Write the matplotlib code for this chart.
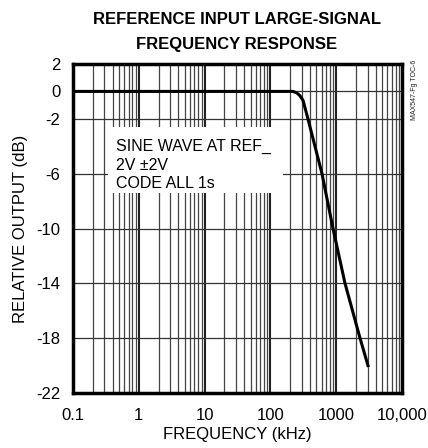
import matplotlib.pyplot as plt

freq_khz = [0.1, 220, 250, 280, 313, 372, 608, 894, 1361, 2302, 3042]
rel_db = [0, 0, -0.1, -0.3, -0.65, -2, -6, -10, -14, -18, -20]

y_ticks = [2, 0, -2, -6, -10, -14, -18, -22]
x_ticks = [0.1, 1, 10, 100, 1000, 10000]
x_labels = ['0.1', '1', '10', '100', '1000', '10,000']

note = 'SINE WAVE AT REF_\n2V \u00b12V\nCODE ALL 1s'

plt.rcParams['font.family'] = ['Liberation Sans', 'DejaVu Sans']
plt.rcParams['axes.unicode_minus'] = False

fig = plt.figure(figsize=(4.28, 4.48), dpi=100)
ax = fig.add_axes([73 / 428, 1 - 393 / 448, 329 / 428, 329 / 448])

ax.set_xscale('log')
ax.set_xlim(0.1, 10000)
ax.set_ylim(-22, 2)

# grid: minor decade lines, heavier at each decade
for dec in [0.1, 1, 10, 100, 1000]:
    for m in range(2, 10):
        ax.axvline(dec * m, color='#444444', lw=0.9, zorder=1)
for dec in [1, 10, 100, 1000]:
    ax.axvline(dec, color='#222222', lw=1.5, zorder=1)
for y in y_ticks:
    ax.axhline(y, color='#333333', lw=0.9, zorder=1)

# white panel behind the note
ax.fill_between([0.34, 155], -7.42, -2.6, color='white', lw=0, zorder=2)
ax.text(0.45, -5.37, note, fontsize=11.5, va='center', ha='left',
        linespacing=1.3, zorder=3)

ax.plot(freq_khz, rel_db, color='black', lw=2.2, zorder=4)

ax.set_xticks(x_ticks)
ax.set_xticklabels(x_labels)
ax.xaxis.set_minor_locator(plt.NullLocator())
ax.set_yticks(y_ticks)
ax.tick_params(axis='y', length=0, labelsize=12, pad=9)
ax.tick_params(axis='x', length=0, labelsize=12, pad=11)
for s in ax.spines.values():
    s.set_linewidth(2.5)
    s.set_zorder(5)

ax.set_xlabel('FREQUENCY (kHz)', fontsize=12, labelpad=3)
ax.set_ylabel('RELATIVE OUTPUT (dB)', fontsize=12, labelpad=6)

fig.text(237 / 428, 1 - 20 / 448, 'REFERENCE INPUT LARGE-SIGNAL', fontsize=12,
         fontweight='bold', ha='center', va='center')
fig.text(237 / 428, 1 - 45 / 448, 'FREQUENCY RESPONSE', fontsize=12,
         fontweight='bold', ha='center', va='center')
fig.text(414 / 428, 1 - 90 / 448, 'MAX547-Fg TOC-6', fontsize=5, rotation=90,
         ha='center', va='center', color='#222222')

fig.savefig('out.png', dpi=100)
